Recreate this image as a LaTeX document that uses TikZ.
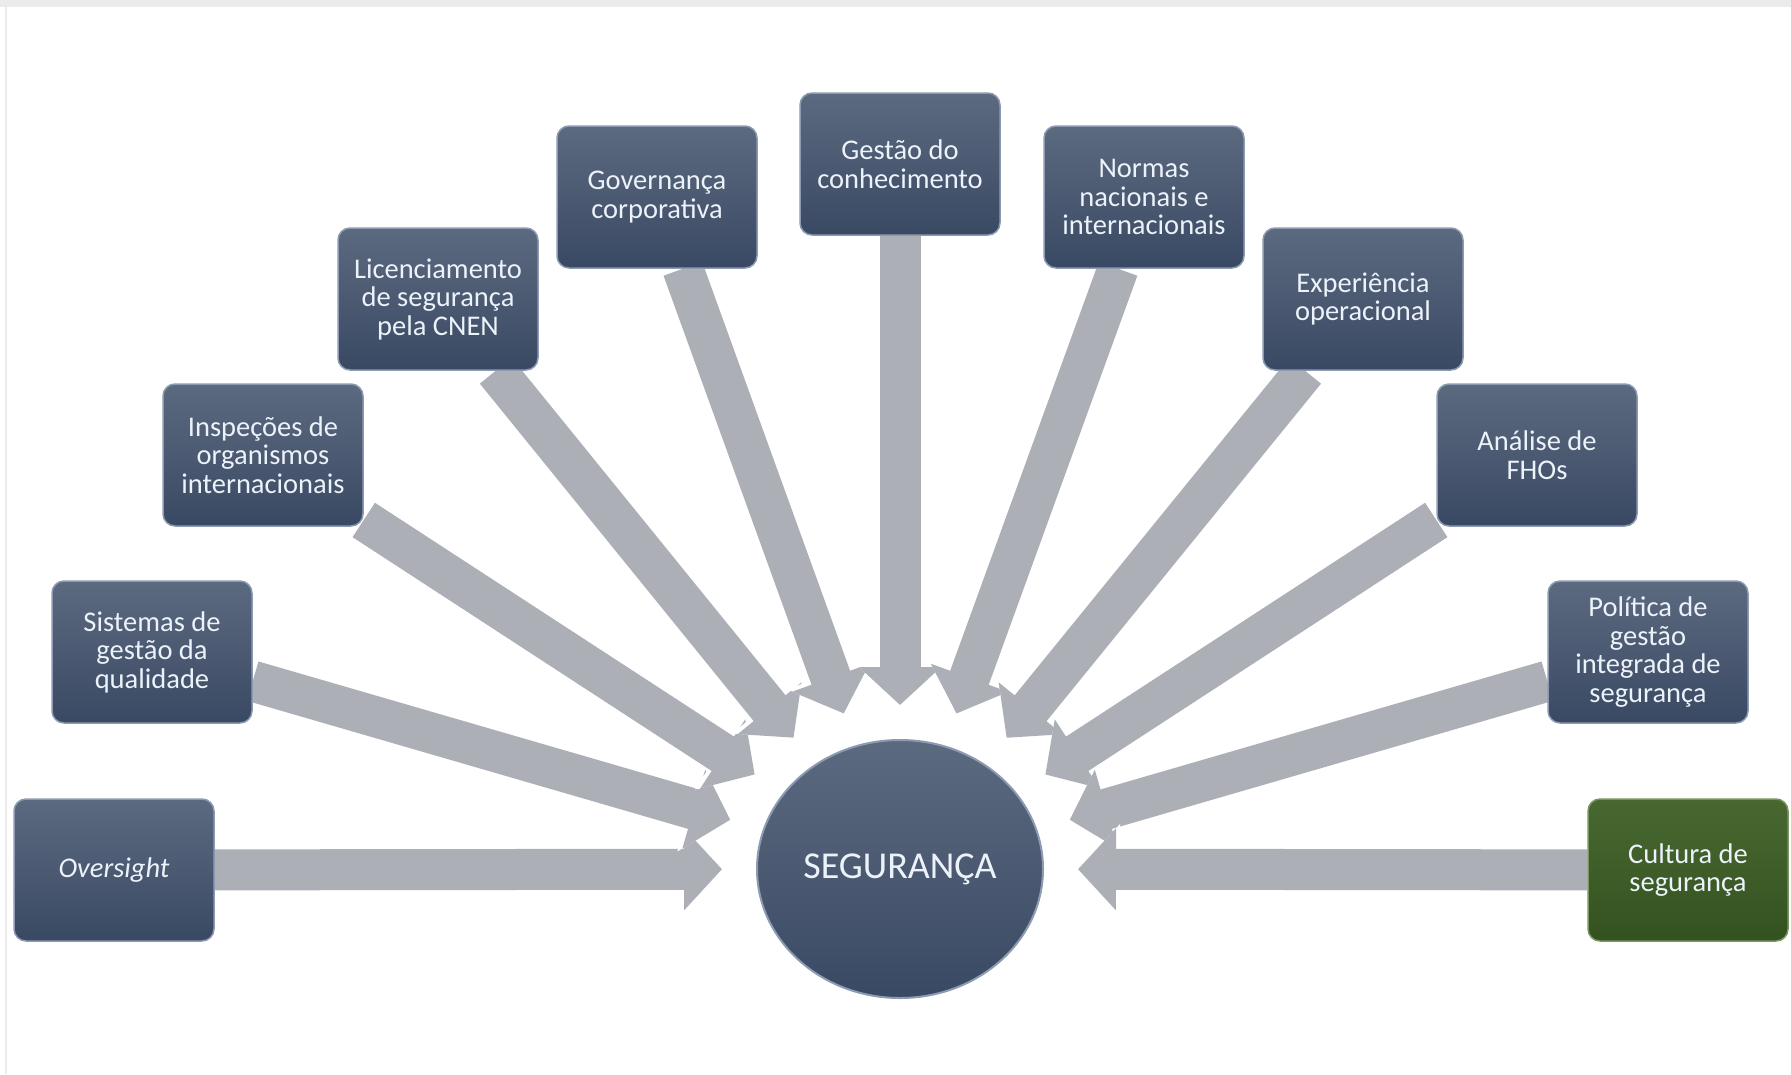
\documentclass[tikz,border=0pt]{standalone}
\usepackage{fontspec}
\setmainfont{Carlito}
\usetikzlibrary{arrows.meta,shapes.geometric,backgrounds}
\definecolor{boxtop}{RGB}{92,106,128}
\definecolor{boxbot}{RGB}{58,73,99}
\definecolor{boxedge}{RGB}{140,155,178}
\definecolor{greentop}{RGB}{72,104,48}
\definecolor{greenbot}{RGB}{52,82,32}
\definecolor{greenedge}{RGB}{120,150,95}
\definecolor{txt}{RGB}{236,242,250}
\definecolor{arrowgray}{RGB}{172,175,182}
\definecolor{framegray}{RGB}{235,235,235}
\tikzset{
  item/.style={draw=boxedge, line width=1.5pt, rounded corners=12pt,
    top color=boxtop, bottom color=boxbot, text=txt,
    minimum width=200pt, minimum height=142pt, inner sep=0pt,
    align=center, font=\fontsize{28.5}{28.5}\selectfont},
  greenitem/.style={item, draw=greenedge, top color=greentop, bottom color=greenbot},
  hub/.style={ellipse, draw=boxedge, line width=2pt, top color=boxtop, bottom color=boxbot,
    text=txt, minimum width=286pt, minimum height=258pt, inner sep=0pt,
    font=\fontsize{38}{40}\selectfont},
  bigarrow/.style={line width=41pt, color=arrowgray, shorten >=34pt,
    -{Triangle[width=80pt,length=38pt]},
    preaction={draw=white, line width=46pt, -{Triangle[width=88pt,length=42pt]}}}
}
\begin{document}
\begin{tikzpicture}[x=1pt,y=-1pt]
\useasboundingbox (0,0) rectangle (1791,1074);

\node[hub] (seg) at (900,869) {SEGURANÇA};
\node[item] (ovs) at (114,870) {\itshape Oversight};
\node[item] (sis) at (152,652) {Sistemas de\\gestão da\\qualidade};
\node[item] (ins) at (263,455) {Inspeções de\\organismos\\internacionais};
\node[item] (lic) at (438,299) {Licenciamento\\de segurança\\pela CNEN};
\node[item] (gov) at (657,197) {Governança\\corporativa};
\node[item] (ges) at (900,164) {Gestão do\\conhecimento};
\node[item] (nor) at (1144,197) {Normas\\nacionais e\\internacionais};
\node[item] (exp) at (1363,299) {Experiência\\operacional};
\node[item] (ana) at (1537,455) {Análise de\\FHOs};
\node[item] (pol) at (1648,652) {Política de\\gestão\\integrada de\\segurança};
\node[greenitem] (cul) at (1688,870) {Cultura de\\segurança};

\begin{pgfonlayer}{background}
\fill[white] (0,0) rectangle (1791,1074);
\fill[framegray] (0,0) rectangle (1791,7);
\draw[framegray, line width=1.5pt] (6,7) -- (6,1074);
\foreach \n in {ovs,sis,ins,lic,gov,ges,nor,exp,ana,pol,cul}
  \draw[bigarrow] (\n) -- (seg);
\end{pgfonlayer}
\end{tikzpicture}
\end{document}
